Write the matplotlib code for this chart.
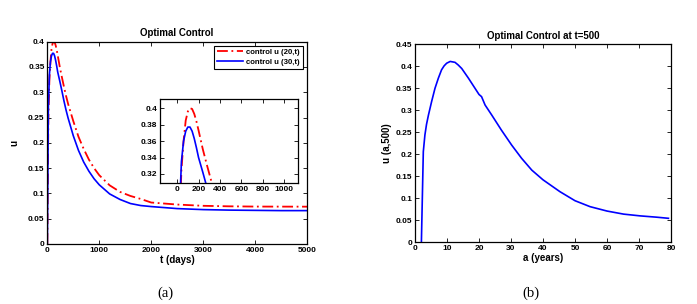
import matplotlib
matplotlib.use("Agg")
import matplotlib.pyplot as plt
from matplotlib.ticker import FuncFormatter

# ---------------- data ----------------
t_days = [0, 20, 40, 60, 80, 100, 120, 140, 160, 180, 200, 240, 280, 320, 360,
          400, 500, 600, 700, 800, 900, 1000, 1200, 1400, 1600, 1800, 2000,
          2500, 3000, 3500, 4000, 4500, 5000]
u20 = [0.0, 0.25, 0.325, 0.36, 0.385, 0.396, 0.400, 0.399, 0.393, 0.384, 0.373,
       0.350, 0.330, 0.311, 0.293, 0.277, 0.243, 0.212, 0.188, 0.167, 0.150,
       0.136, 0.116, 0.103, 0.095, 0.089, 0.082, 0.078, 0.0755, 0.0745, 0.074,
       0.0739, 0.0738]
u30 = [0.0, 0.27, 0.335, 0.36, 0.372, 0.377, 0.377, 0.372, 0.363, 0.352, 0.340,
       0.322, 0.303, 0.283, 0.265, 0.249, 0.214, 0.185, 0.162, 0.144, 0.129,
       0.117, 0.099, 0.088, 0.080, 0.076, 0.074, 0.070, 0.068, 0.067, 0.0665,
       0.066, 0.066]

a_years = [2.0, 2.6, 3.1, 3.6, 4.2, 5.2, 6.25, 7.3, 8.3, 9.1, 9.9, 11.0, 12.5,
           13.5, 14.6, 16.7, 18.75, 20.0, 20.8, 21.9, 24.0, 27.0, 30.2, 33.3,
           36.5, 40.0, 45.3, 50.0, 54.7, 60.0, 65.2, 70.4, 75.6, 79.2]
u_a500 = [0.0, 0.206, 0.244, 0.268, 0.289, 0.320, 0.350, 0.373, 0.392, 0.401,
          0.407, 0.411, 0.409, 0.403, 0.395, 0.373, 0.350, 0.336, 0.331, 0.312,
          0.289, 0.255, 0.221, 0.191, 0.164, 0.142, 0.115, 0.0945, 0.081,
          0.071, 0.064, 0.060, 0.057, 0.0545]

main_yticks = [0, 0.05, 0.1, 0.15, 0.2, 0.25, 0.3, 0.35, 0.4]
main_xticks = [0, 1000, 2000, 3000, 4000, 5000]
inset_xticks = [0, 200, 400, 600, 800, 1000]
inset_yticks = [0.32, 0.34, 0.36, 0.38, 0.40]
right_xticks = [0, 10, 20, 30, 40, 50, 60, 70, 80]
right_yticks = [0, 0.05, 0.1, 0.15, 0.2, 0.25, 0.3, 0.35, 0.4, 0.45]

# ---------------- style ----------------
plt.rcParams['font.family'] = ['Liberation Sans', 'DejaVu Sans']
plt.rcParams['font.weight'] = 'bold'
BLUE = '#0000ff'
RED = '#ff0000'
dashdot = (0, (6, 2, 1, 2))
fmt = FuncFormatter(lambda v, p: '%g' % round(v, 6))


def style(ax, fs=6):
    ax.tick_params(direction='in', top=True, right=True, labelsize=fs,
                   length=3, width=0.6, pad=2)
    for lab in ax.get_xticklabels() + ax.get_yticklabels():
        lab.set_fontweight('bold')
    for s in ax.spines.values():
        s.set_linewidth(0.9)
    ax.xaxis.set_major_formatter(fmt)
    ax.yaxis.set_major_formatter(fmt)


fig = plt.figure(figsize=(6.97, 3.04), dpi=100)

# ----- left panel -----
ax1 = fig.add_axes([0.0679, 0.1974, 0.3726, 0.6654])
ax1.plot(t_days, u20, color=RED, linestyle=dashdot, lw=1.3,
         label='control u (20,t)')
ax1.plot(t_days, u30, color=BLUE, lw=1.2, label='control u (30,t)')
ax1.set_xlim(0, 5000)
ax1.set_ylim(0, 0.4)
ax1.set_xticks(main_xticks)
ax1.set_yticks(main_yticks)
style(ax1)
ax1.set_title('Optimal Control', fontsize=7, fontweight='bold', pad=4)
ax1.set_xlabel('t (days)', fontsize=7, fontweight='bold', labelpad=1)
ax1.set_ylabel('u', fontsize=7, fontweight='bold', labelpad=6)
leg = ax1.legend(loc='upper right', fontsize=5.6, handlelength=3.4,
                 borderpad=0.4, labelspacing=0.25, handletextpad=0.4,
                 borderaxespad=0.5, fancybox=False, framealpha=1)
leg.get_frame().set_edgecolor('black')
leg.get_frame().set_linewidth(0.8)
for txt in leg.get_texts():
    txt.set_fontweight('bold')

# ----- inset -----
axi = fig.add_axes([0.2296, 0.398, 0.198, 0.276])
axi.plot(t_days, u20, color=RED, linestyle=dashdot, lw=1.3)
axi.plot(t_days, u30, color=BLUE, lw=1.2)
axi.set_xlim(-160, 1130)
axi.set_ylim(0.309, 0.411)
axi.set_xticks(inset_xticks)
axi.set_yticks(inset_yticks)
style(axi)

# ----- right panel -----
ax2 = fig.add_axes([0.5954, 0.2030, 0.3673, 0.6513])
ax2.plot(a_years, u_a500, color=BLUE, lw=1.2)
ax2.set_xlim(0, 80)
ax2.set_ylim(0, 0.45)
ax2.set_xticks(right_xticks)
ax2.set_yticks(right_yticks)
style(ax2)
ax2.set_title('Optimal Control at t=500', fontsize=7, fontweight='bold', pad=4)
ax2.set_xlabel('a (years)', fontsize=7, fontweight='bold', labelpad=1)
ax2.set_ylabel('u (a,500)', fontsize=7, fontweight='bold', labelpad=3)

# ----- captions -----
fig.text(165 / 697, 1 - 293 / 304, '(a)', ha='center', va='center',
         fontsize=10.5, family=['Liberation Serif', 'DejaVu Serif'],
         fontweight='normal')
fig.text(531 / 697, 1 - 293 / 304, '(b)', ha='center', va='center',
         fontsize=10.5, family=['Liberation Serif', 'DejaVu Serif'],
         fontweight='normal')

fig.savefig('out.png', dpi=100)
